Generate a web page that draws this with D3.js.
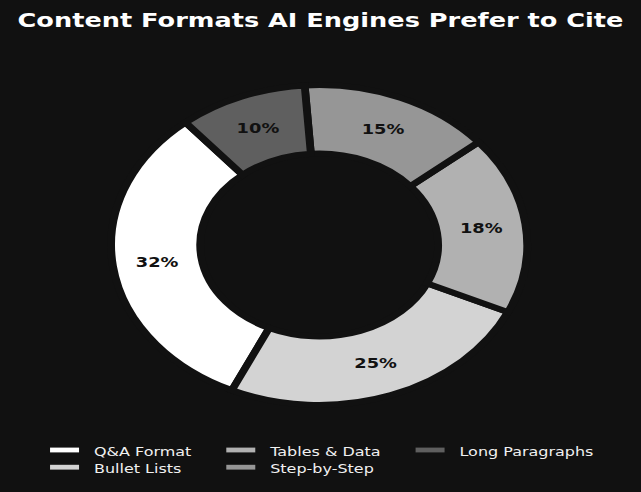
<!DOCTYPE html>
<html>
<head>
<meta charset="utf-8">
<script src="https://cdn.jsdelivr.net/npm/d3@7"></script>
<style>
  body { margin: 0; background: #111111; }
  text { font-family: "DejaVu Sans", sans-serif; }
</style>
</head>
<body>
<div id="chart"></div>
<script>
// Data
const categories = ["Q&A Format", "Bullet Lists", "Tables & Data", "Step-by-Step", "Long Paragraphs"];
const shares = [32, 25, 18, 15, 10];
const palette = ["#ffffff", "#d3d3d3", "#b1b1b1", "#969696", "#5f5f5f"];

const width = 641;
const height = 492;
const stretch = 1.3; // the figure was square, then widened
const plotWidth = width / stretch;
const center = { x: 245.5, y: 245 };
const outerR = 160;
const innerR = 91.5;
const bg = "#111111";

const svg = d3
  .select("#chart")
  .append("svg")
  .attr("width", width)
  .attr("height", height);

svg.append("rect").attr("width", width).attr("height", height).attr("fill", bg);

const g = svg.append("g").attr("transform", `scale(${stretch},1)`);

// Title
g.append("text")
  .attr("x", plotWidth / 2)
  .attr("y", 26.7)
  .attr("text-anchor", "middle")
  .attr("fill", "#ffffff")
  .style("font-size", "19.7px")
  .style("font-weight", "bold")
  .text("Content Formats AI Engines Prefer to Cite");

const color = d3.scaleOrdinal().domain(categories).range(palette);

// counterclockwise from 130 degrees (matplotlib style)
const pie = d3
  .pie()
  .sort(null)
  .value((d) => d.value)
  .startAngle((-40 * Math.PI) / 180)
  .endAngle((-400 * Math.PI) / 180);

const slices = pie(categories.map((c, i) => ({ name: c, value: shares[i] })));

const arc = d3.arc().innerRadius(innerR).outerRadius(outerR);

const pieG = g.append("g").attr("transform", `translate(${center.x},${center.y})`);

pieG
  .selectAll(".slice")
  .data(slices)
  .enter()
  .append("path")
  .attr("class", "slice")
  .attr("d", arc)
  .attr("fill", (d) => color(d.data.name))
  .attr("stroke", bg)
  .attr("stroke-width", 6);

pieG
  .selectAll(".pct")
  .data(slices)
  .enter()
  .append("text")
  .attr("class", "pct")
  .attr("transform", (d) => `translate(${arc.centroid(d)})`)
  .attr("text-anchor", "middle")
  .attr("dy", "0.36em")
  .attr("fill", "#111111")
  .style("font-size", "13.7px")
  .style("font-weight", "bold")
  .text((d) => d.data.value + "%");

// Legend, 3 columns filled top to bottom
const rows = 2;
const handleW = 22.3;
const handleH = 4.8;
const textGap = 33.8;
const colGap = 26.9;
const rowY = [455.6, 472.8];

const legend = g.append("g");
const items = legend
  .selectAll(".item")
  .data(categories)
  .enter()
  .append("g")
  .attr("class", "item");

items
  .append("text")
  .attr("fill", "#f0f0f0")
  .style("font-size", "12.3px")
  .text((d) => d);

// work out column positions from text widths
const nCols = Math.ceil(categories.length / rows);
const colW = d3.range(nCols).map((c) =>
  d3.max(items.filter((d, i) => Math.floor(i / rows) === c).nodes(), (n) =>
    n.querySelector("text").getComputedTextLength()
  )
);
const colX = [38.5];
for (let c = 1; c < nCols; c++) {
  colX.push(colX[c - 1] + textGap + colW[c - 1] + colGap);
}

items.attr("transform", (d, i) => `translate(${colX[Math.floor(i / rows)]},${rowY[i % rows]})`);
items.select("text").attr("x", textGap);
items
  .append("rect")
  .attr("x", 0)
  .attr("y", -5.6 - handleH / 2)
  .attr("width", handleW)
  .attr("height", handleH)
  .attr("fill", (d) => color(d));
</script>
</body>
</html>
